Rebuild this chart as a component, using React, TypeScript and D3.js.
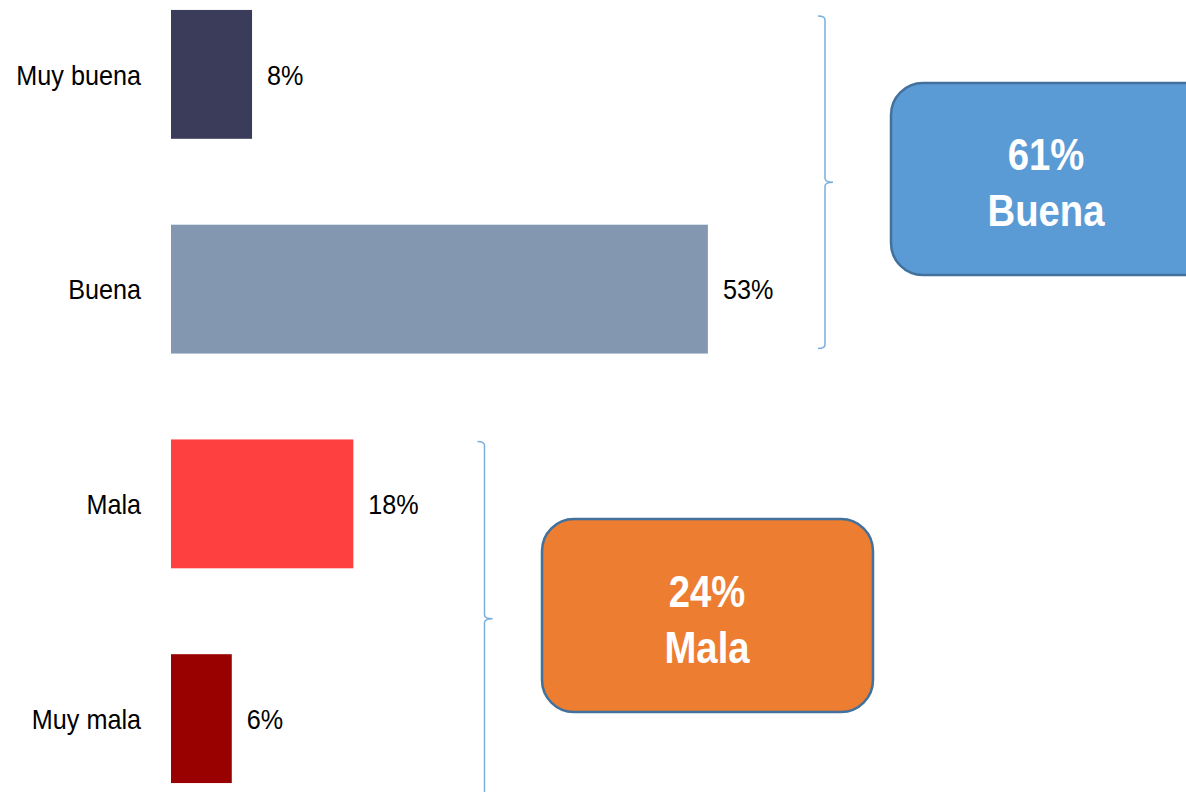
import React from 'react'
import * as d3 from 'd3'

// Valoración: porcentaje por categoría
const categories = ['Muy buena', 'Buena', 'Mala', 'Muy mala']
const values = [8, 53, 18, 6]
const barColors = ['#3a3c5a', '#8497b0', '#ff4040', '#990000']

// Grupos resumidos (llaves + cajas)
const groupNames = ['Buena', 'Mala']
const groupTotals = [61, 24]
const groupMembers = [['Muy buena', 'Buena'], ['Mala', 'Muy mala']]
const groupColors = ['#5b9bd5', '#ed7d31']

const W = 1186
const H = 792
const FONT = "'Liberation Sans', Arial, sans-serif"

// text squeezed horizontally, like the narrow font of the original
function NarrowText({ x, y, anchor = 'start', size, sx, bold = false, fill = '#000', children }: any) {
  return (
    <text transform={`translate(${x},${y}) scale(${sx},1)`} textAnchor={anchor}
      fontFamily={FONT} fontSize={size} fontWeight={bold ? 'bold' : 'normal'} fill={fill}>
      {children}
    </text>
  )
}

export default function App() {
  const x = d3.scaleLinear().domain([0, 100]).range([171, 171 + 1013])
  const y = d3.scaleBand<string>()
    .domain(categories)
    .range([-33, 826])
    .paddingInner(0.4)
    .paddingOuter(0.2)
  const bw = y.bandwidth()

  // brace and box placement per group
  const braceX = [825, 484.5]
  const braceTopOffset = [6, 2]
  const braceBottomOffset = [-5, 13]
  const boxes = [
    { x: 891, y: 83, w: 330, h: 192, cx: 1046 },
    { x: 542, y: 519, w: 331, h: 193, cx: 707 },
  ]

  const bracePath = (bx: number, top: number, bottom: number) => {
    const mid = (top + bottom) / 2
    return `M${bx - 7},${top} Q${bx},${top} ${bx},${top + 4} L${bx},${mid - 4} Q${bx},${mid} ${bx + 8},${mid} ` +
      `Q${bx},${mid} ${bx},${mid + 4} L${bx},${bottom - 4} Q${bx},${bottom} ${bx - 7},${bottom}`
  }

  return (
    <svg width={W} height={H} style={{ position: 'absolute', top: 0, left: 0, background: '#fff' }}>
      {categories.map((c, i) => {
        const cy = (y(c) ?? 0) + bw / 2
        return (
          <g key={c}>
            <rect x={x(0)} y={y(c)} width={x(values[i]) - x(0)} height={bw} fill={barColors[i]} />
            <NarrowText x={141} y={cy + 10.3} anchor="end" size={28} sx={0.9}>{c}</NarrowText>
            <NarrowText x={x(values[i]) + 15} y={cy + 10.3} size={28} sx={0.9}>{values[i]}%</NarrowText>
          </g>
        )
      })}

      {groupNames.map((g, i) => {
        const first = groupMembers[i][0]
        const last = groupMembers[i][groupMembers[i].length - 1]
        const top = (y(first) ?? 0) + braceTopOffset[i]
        const bottom = (y(last) ?? 0) + bw + braceBottomOffset[i]
        const b = boxes[i]
        const my = b.y + b.h / 2
        return (
          <g key={g}>
            <path d={bracePath(braceX[i], top, bottom)} fill="none" stroke="#78aee0" strokeWidth={1.5} />
            <rect x={b.x} y={b.y} width={b.w} height={b.h} rx={32} ry={32}
              fill={groupColors[i]} stroke="#41719c" strokeWidth={2.5} />
            <NarrowText x={b.cx} y={my - 9} anchor="middle" size={44.5} sx={0.86} bold fill="#fff">
              {groupTotals[i]}%
            </NarrowText>
            <NarrowText x={b.cx} y={my + 47} anchor="middle" size={44.5} sx={0.86} bold fill="#fff">
              {g}
            </NarrowText>
          </g>
        )
      })}
    </svg>
  )
}
